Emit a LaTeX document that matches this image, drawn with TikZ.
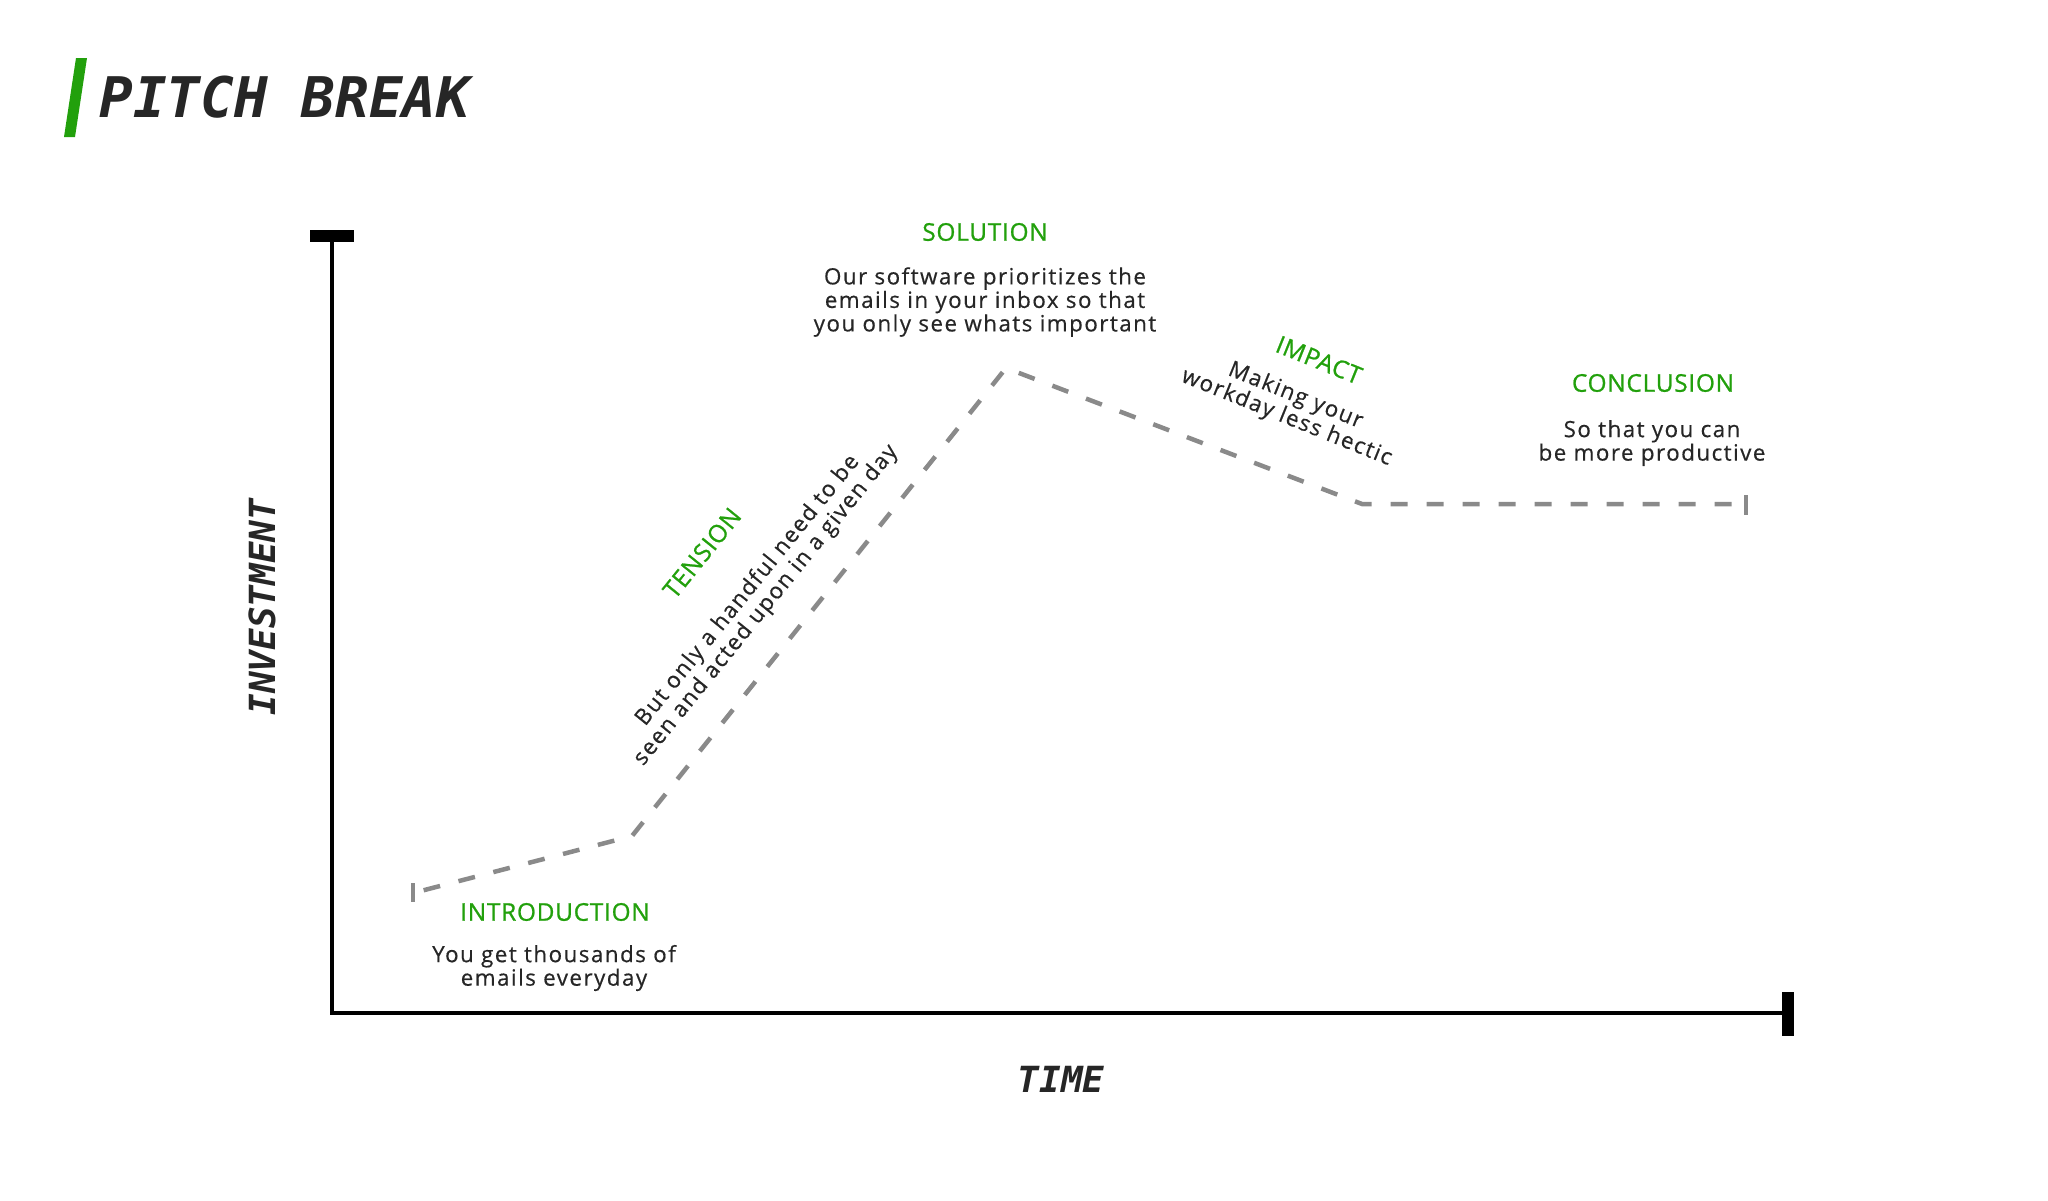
\documentclass[tikz,border=0pt]{standalone}
\usepackage{fontspec}
\setmainfont{Open Sans}
\newfontfamily\monofont{DejaVu Sans Mono}
\newfontfamily\bodyfont{Open Sans}[LetterSpace=6.5,FakeBold=0.5]
\newfontfamily\labelfont{Open Sans}[LetterSpace=3,FakeBold=0.9]
\definecolor{pgreen}{HTML}{22A00C}
\definecolor{linegray}{HTML}{8A8A8A}
\definecolor{ink}{HTML}{262626}
\begin{document}
\begin{tikzpicture}[x=0.5pt,y=-0.5pt,
  axis/.style={line width=2pt,draw=black},
  trend/.style={line width=2.25pt,draw=linegray,dash pattern=on 8.5pt off 9.5pt,shorten <=5.5pt,shorten >=6pt},
  tickmark/.style={line width=2.25pt,draw=linegray},
  lbl/.style={text=pgreen,font=\labelfont\fontsize{12.2}{14}\selectfont,inner sep=0pt},
  body/.style={text=ink,font=\bodyfont\fontsize{11.2}{11.75}\selectfont,align=center,inner sep=0pt},
  axislabel/.style={text=ink,font=\monofont\bfseries\itshape\fontsize{18}{20}\selectfont,inner sep=0pt}]
\useasboundingbox (0,0) rectangle (2048,1200);

% title
\fill[pgreen] (76,58) -- (87,58) -- (75,137) -- (64,137) -- cycle;
\node[anchor=base west,text=ink,font=\monofont\bfseries\itshape\fontsize{28}{30}\selectfont,inner sep=0pt] (title) at (99,117) {PITCH BREAK};

% axes
\coordinate (ytop) at (332,236);
\coordinate (origin) at (332,1013);
\coordinate (xend) at (1788,1013);
\draw[axis] (ytop) -- (origin) -- (xend);
\fill[black] (310,230) rectangle (354,242);
\fill[black] (1782,992) rectangle (1794,1036);
\node[axislabel,rotate=90] (ylab) at (262,607) {INVESTMENT};
\node[axislabel] (xlab) at (1061,1079) {TIME};

% trend line
\coordinate (p0) at (413,893);
\coordinate (p1) at (632,836);
\coordinate (p2) at (1006,368);
\coordinate (p3) at (1362,504);
\coordinate (p4) at (1746,504);
\coordinate (t0a) at (413,883);
\coordinate (t0b) at (413,902);
\coordinate (t4a) at (1746,495);
\coordinate (t4b) at (1746,515);
\draw[trend] (p0) -- (p1) -- (p2) -- (p3) -- (p4);
\draw[tickmark] (t0a) -- (t0b);
\draw[tickmark] (t4a) -- (t4b);

% labels
\node[lbl] (intro) at (555,912) {INTRODUCTION};
\node[body] (introtext) at (554,968) {You get thousands of\\emails everyday};

\node[lbl,rotate=51] (tension) at (702,553) {TENSION};
\node[body,rotate=51] (tensiontext) at (757,598) {But only a handful need to be\\seen and acted upon in a given day};

\node[lbl] (solution) at (985,232) {SOLUTION};
\node[body] (solutiontext) at (985,302) {Our software prioritizes the\\emails in your inbox so that\\you only see whats important};

\node[lbl,rotate=-22] (impact) at (1319,360) {IMPACT};
\node[body,rotate=-22] (impacttext) at (1291,407) {Making your\\workday less hectic};

\node[lbl] (conclusion) at (1653,383) {CONCLUSION};
\node[body] (conclusiontext) at (1652,443) {So that you can\\be more productive};
\end{tikzpicture}
\end{document}
